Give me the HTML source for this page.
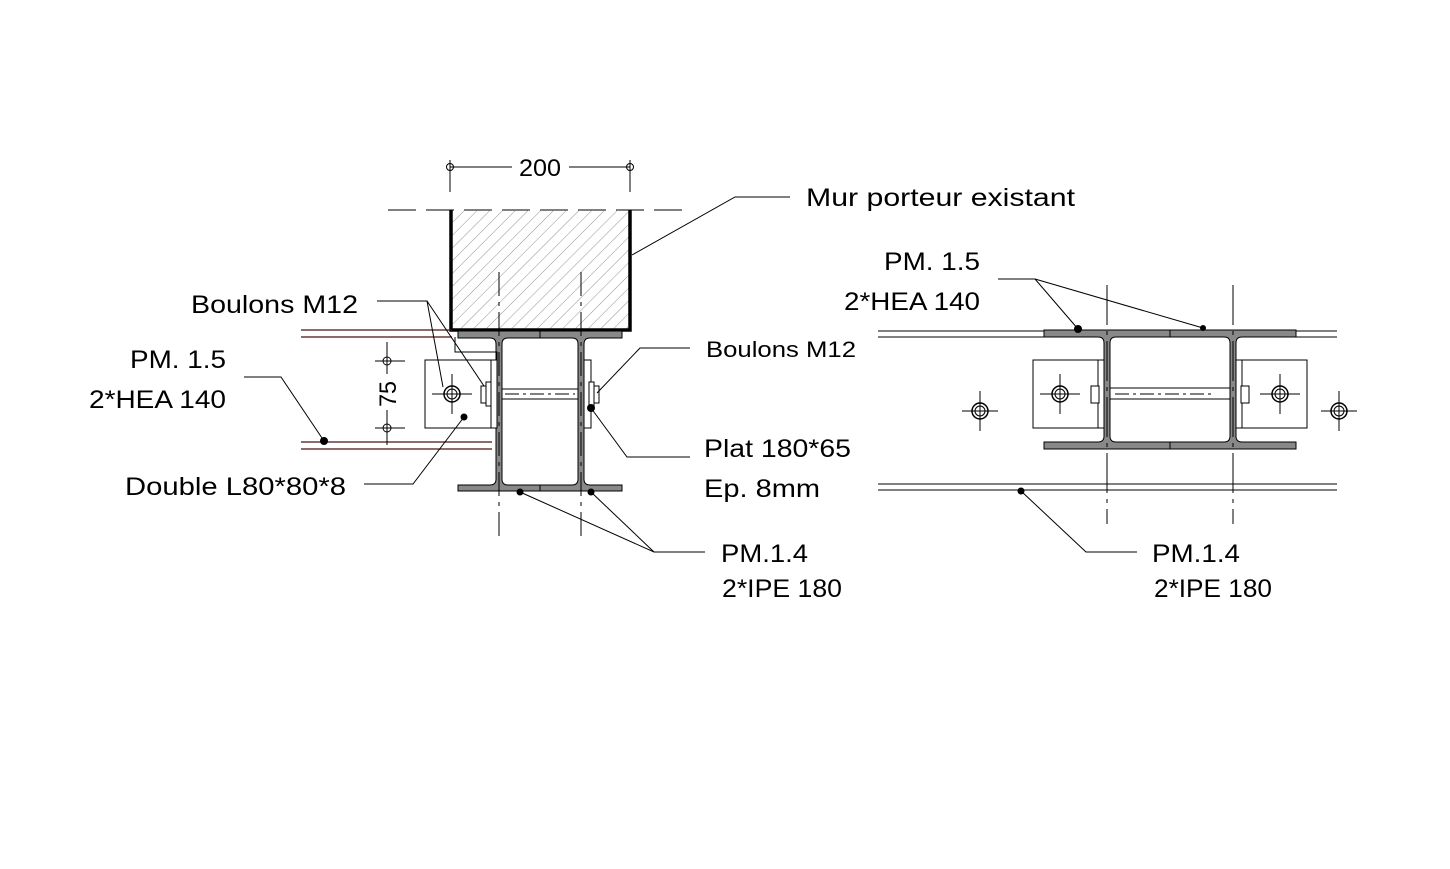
<!DOCTYPE html>
<html><head><meta charset="utf-8"><style>
html,body{margin:0;padding:0;background:#fff;}
svg{display:block;}
text{font-family:"Liberation Sans",sans-serif;fill:#000;}
</style></head><body>
<svg width="1450" height="869" viewBox="0 0 1450 869" xmlns="http://www.w3.org/2000/svg">
<defs>
<pattern id="h" width="9" height="9" patternUnits="userSpaceOnUse" patternTransform="rotate(45)">
<line x1="0" y1="0" x2="0" y2="9" stroke="#777" stroke-width="0.8"/>
</pattern>
</defs>
<g stroke="#000" fill="none" stroke-width="1">
<!-- dimension 200 -->
<line x1="450" y1="160" x2="450" y2="192"/><line x1="630" y1="160" x2="630" y2="192"/>
<line x1="450" y1="167" x2="512" y2="167"/><line x1="569" y1="167" x2="630" y2="167"/>
<circle cx="450" cy="167" r="3.5"/><circle cx="630" cy="167" r="3.5"/>
<!-- dashed wall edges -->
<line x1="388" y1="210" x2="692" y2="210" stroke-dasharray="28,10,28,10"/>
</g>
<!-- wall -->
<rect x="451" y="210" width="179" height="120" fill="url(#h)"/>
<path d="M451 210 V330 H630 V210" stroke="#000" stroke-width="3.5" fill="none"/>

<!-- HEA lines left -->
<g stroke-width="1.3" fill="none">
<line x1="301" y1="330" x2="452" y2="330" stroke="#4a1010"/>
<line x1="301" y1="337" x2="452" y2="337" stroke="#4a1010"/>
<line x1="301" y1="442" x2="492" y2="442" stroke="#4a1010"/>
<line x1="301" y1="449" x2="492" y2="449" stroke="#4a1010"/>
</g>

<!-- I beams -->
<g fill="#888" stroke="#000" stroke-width="1">
<path d="M458 331 H540 V338 H508 Q502 338 502 344 V479 Q502 485 508 485 H540 V491 H458 V485 H490 Q496 485 496 479 V344 Q496 338 490 338 H458 Z"/>
<path d="M540 331 H622 V338 H590 Q584 338 584 344 V479 Q584 485 590 485 H622 V491 H540 V485 H572 Q578 485 578 479 V344 Q578 338 572 338 H540 Z"/>
<path d="M1044 330 H1170 V337 H1116 Q1110 337 1110 343 V436 Q1110 442 1116 442 H1170 V449 H1044 V442 H1098 Q1104 442 1104 436 V343 Q1104 337 1098 337 H1044 Z"/>
<path d="M1170 330 H1296 V337 H1242 Q1236 337 1236 343 V436 Q1236 442 1242 442 H1296 V449 H1170 V442 H1224 Q1230 442 1230 436 V343 Q1230 337 1224 337 H1170 Z"/>
</g>

<g stroke="#000" fill="none" stroke-width="1">
<!-- centerlines -->
<line x1="499" y1="272" x2="499" y2="542" stroke-dasharray="24,6,4,6"/>
<line x1="581" y1="272" x2="581" y2="542" stroke-dasharray="24,6,4,6"/>
<line x1="1107" y1="285" x2="1107" y2="524" stroke-dasharray="40,6,4,6"/>
<line x1="1233" y1="285" x2="1233" y2="524" stroke-dasharray="40,6,4,6"/>

<!-- left angle plates -->
<rect x="425" y="360" width="66" height="68" fill="#fff"/>
<rect x="491" y="360" width="6" height="68" fill="#fff"/>
<rect x="584" y="360" width="7" height="68" fill="#fff"/>
<path d="M455 337 V352 H497 V360"/>
<!-- rod -->
<rect x="502" y="389" width="76" height="10" fill="#fff"/>
<line x1="505" y1="394" x2="575" y2="394" stroke-dasharray="14,4,3,4"/>
<!-- nuts -->
<rect x="481" y="386" width="8" height="17" fill="#fff"/><rect x="486" y="382" width="5" height="24" fill="#fff"/>
<rect x="591" y="386" width="8" height="17" fill="#fff"/><rect x="589" y="382" width="5" height="24" fill="#fff"/>
<!-- bolt -->
<circle cx="452" cy="394" r="8" stroke-width="1.5"/><circle cx="452" cy="394" r="5"/>
<line x1="432" y1="394" x2="472" y2="394"/><line x1="452" y1="374" x2="452" y2="414"/>

<!-- dim 75 -->
<line x1="387" y1="342" x2="387" y2="374"/><line x1="387" y1="410" x2="387" y2="445"/>
<line x1="375" y1="361" x2="405" y2="361"/><line x1="375" y1="428" x2="405" y2="428"/>
<circle cx="387" cy="361" r="4"/><circle cx="387" cy="428" r="4"/>

<!-- right section lines -->
<line x1="878" y1="331" x2="1044" y2="331"/><line x1="878" y1="337" x2="1044" y2="337"/>
<line x1="1296" y1="331" x2="1337" y2="331"/><line x1="1296" y1="337" x2="1337" y2="337"/>
<line x1="878" y1="484" x2="1337" y2="484"/><line x1="878" y1="490" x2="1337" y2="490"/>
<rect x="1033" y="360" width="65" height="68" fill="#fff"/>
<rect x="1098" y="360" width="6" height="68" fill="#fff"/>
<rect x="1242" y="360" width="65" height="68" fill="#fff"/>
<rect x="1236" y="360" width="6" height="68" fill="#fff"/>
<rect x="1110" y="388" width="120" height="11" fill="#fff"/>
<line x1="1115" y1="394" x2="1212" y2="394" stroke-dasharray="14,4,3,4"/>
<rect x="1091" y="386" width="8" height="17" fill="#fff"/>
<rect x="1241" y="386" width="8" height="17" fill="#fff"/>
<circle cx="1060" cy="394" r="8" stroke-width="1.5"/><circle cx="1060" cy="394" r="5"/>
<line x1="1040" y1="394" x2="1080" y2="394"/><line x1="1060" y1="374" x2="1060" y2="414"/>
<circle cx="1280" cy="394" r="8" stroke-width="1.5"/><circle cx="1280" cy="394" r="5"/>
<line x1="1260" y1="394" x2="1300" y2="394"/><line x1="1280" y1="374" x2="1280" y2="414"/>
<circle cx="980" cy="411" r="8" stroke-width="1.5"/><circle cx="980" cy="411" r="5"/>
<line x1="962" y1="411" x2="998" y2="411"/><line x1="980" y1="391" x2="980" y2="431"/>
<circle cx="1339" cy="411" r="8" stroke-width="1.5"/><circle cx="1339" cy="411" r="5"/>
<line x1="1321" y1="411" x2="1357" y2="411"/><line x1="1339" y1="391" x2="1339" y2="431"/>

<!-- leaders -->
<polyline points="790,197 735,197 632,255"/>
<polyline points="377,301 427,301 443,387"/><line x1="427" y1="301" x2="484" y2="386"/>
<polyline points="244,377 281,377 324,441"/>
<polyline points="364,484 413,484 464,417"/>
<polyline points="690,348 640,348 597,393"/>
<polyline points="690,457 627,457 591,408"/>
<polyline points="705,552 654,552 520,492"/><line x1="654" y1="552" x2="591" y2="492"/>
<polyline points="998,279 1035,279 1078,329"/><line x1="1035" y1="279" x2="1203" y2="328"/>
<polyline points="1137,552 1086,552 1021,491"/>
</g>
<g fill="#000">
<circle cx="324" cy="441" r="4"/><circle cx="464" cy="417" r="3.5"/><circle cx="591" cy="408" r="4"/>
<circle cx="520" cy="492" r="3.5"/><circle cx="591" cy="492" r="3.5"/>
<circle cx="1078" cy="329" r="4"/><circle cx="1203" cy="328" r="3"/><circle cx="1021" cy="491" r="3.5"/>
</g>

<!-- text -->
<g font-size="25">
<text x="519" y="176" textLength="42" lengthAdjust="spacingAndGlyphs" font-size="24">200</text>
<text x="806" y="206" textLength="269" lengthAdjust="spacingAndGlyphs">Mur porteur existant</text>
<text x="191" y="313" textLength="167" lengthAdjust="spacingAndGlyphs">Boulons M12</text>
<text x="130" y="368" textLength="96" lengthAdjust="spacingAndGlyphs">PM. 1.5</text>
<text x="89" y="408" textLength="137" lengthAdjust="spacingAndGlyphs">2*HEA 140</text>
<text x="125" y="495" textLength="221" lengthAdjust="spacingAndGlyphs">Double L80*80*8</text>
<text x="884" y="270" textLength="96" lengthAdjust="spacingAndGlyphs">PM. 1.5</text>
<text x="844" y="310" textLength="136" lengthAdjust="spacingAndGlyphs">2*HEA 140</text>
<text x="706" y="357" textLength="150" lengthAdjust="spacingAndGlyphs" font-size="22">Boulons M12</text>
<text x="704" y="457" textLength="147" lengthAdjust="spacingAndGlyphs">Plat 180*65</text>
<text x="704" y="497" textLength="116" lengthAdjust="spacingAndGlyphs">Ep. 8mm</text>
<text x="721" y="562" textLength="87" lengthAdjust="spacingAndGlyphs">PM.1.4</text>
<text x="722" y="597" textLength="120" lengthAdjust="spacingAndGlyphs">2*IPE 180</text>
<text x="1152" y="562" textLength="88" lengthAdjust="spacingAndGlyphs">PM.1.4</text>
<text x="1154" y="597" textLength="118" lengthAdjust="spacingAndGlyphs">2*IPE 180</text>
<text transform="translate(396,407) rotate(-90)" font-size="24" textLength="26" lengthAdjust="spacingAndGlyphs">75</text>
</g>
</svg>
</body></html>
